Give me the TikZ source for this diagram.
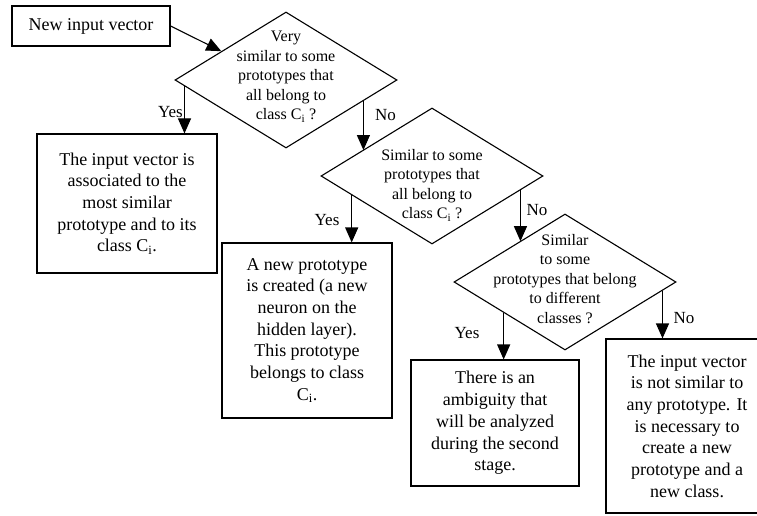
\documentclass[tikz,border=0pt]{standalone}
\usepackage{fontspec}
\setmainfont{Liberation Serif}
\usetikzlibrary{shapes.geometric,arrows.meta,calc}
\begin{document}
\begin{tikzpicture}[x=1pt,y=-1pt,
  box/.style={draw, line width=1.1pt, rectangle, inner sep=0pt, align=center, font=\fontsize{18}{21.7}\selectfont},
  dia/.style={draw, line width=1.1pt, diamond, inner sep=0pt},
  dtext/.style={align=center, inner sep=0pt, font=\fontsize{16}{19.5}\selectfont},
  lab/.style={inner sep=0pt, font=\fontsize{17}{20}\selectfont},
  arr/.style={line width=1.1pt, -{Triangle[width=13pt,length=15pt]}}
]
\useasboundingbox (0,0) rectangle (757,516);
\clip (0,0) rectangle (757,516);

% start box
\node[box, minimum width=158pt, minimum height=40pt] (start) at (91,26) {New input vector};

% decisions
\node[dia, minimum width=222pt, minimum height=136pt] (d1) at (286,80) {};
\node[dia, minimum width=222pt, minimum height=136pt] (d2) at (432,176) {};
\node[dia, minimum width=222pt, minimum height=136pt] (d3) at (565,282) {};

\node[dtext] (d1t) at (286,77) {Very\\similar to some\\prototypes that\\all belong to\\class C\textsubscript{i} ?};
\node[dtext] (d2t) at (432,185) {Similar to some\\prototypes that\\all belong to\\class C\textsubscript{i} ?};
\node[dtext] (d3t) at (565,279) {Similar\\to some\\prototypes that belong\\to different\\classes ?};

% outcome boxes
\node[box, minimum width=180pt, minimum height=139pt] (b1) at (127,203.5)
  {The input vector is\\associated to the\\most similar\\prototype and to its\\class C\textsubscript{i}.};
\node[box, minimum width=170pt, minimum height=175pt] (b2) at (307,330.5)
  {A new prototype\\is created (a new\\neuron on the\\hidden layer).\\This prototype\\belongs to class\\C\textsubscript{i}.};
\node[box, minimum width=168pt, minimum height=126pt] (b3) at (495,423)
  {There is an\\ambiguity that\\will be analyzed\\during the second\\stage.};
\node[box, minimum width=162pt, minimum height=174pt] (b4) at (687,426)
  {The input vector\\is not similar to\\any prototype. It\\is necessary to\\create a new\\prototype and a\\new class.};

% connection points on diamond edges
\path (d1.west) -- (d1.north) coordinate[pos=0.42] (p0);
\path (d1.west) -- (d1.south) coordinate[pos=0.09] (p1);
\path (d1.east) -- (d1.south) coordinate[pos=0.306] (p2);
\path (d2.west) -- (d2.north) coordinate[pos=0.378] (q2);
\path (d2.west) -- (d2.south) coordinate[pos=0.28] (p3);
\path (d2.east) -- (d2.south) coordinate[pos=0.207] (p4);
\path (d3.west) -- (d3.north) coordinate[pos=0.595] (q4);
\path (d3.west) -- (d3.south) coordinate[pos=0.45] (p5);
\path (d3.east) -- (d3.south) coordinate[pos=0.126] (p6);

% connectors
\draw[arr] (start.east) -- (p0);
\draw[arr] (p1) -- (p1 |- b1.north);
\draw[arr] (p2) -- (p2 |- q2);
\draw[arr] (p3) -- (p3 |- b2.north);
\draw[arr] (p4) -- (p4 |- q4);
\draw[arr] (p5) -- (p5 |- b3.north);
\draw[arr] (p6) -- (p6 |- b4.north);

% labels
\node[lab, anchor=east] (l1) at (183,112) {Yes};
\node[lab, anchor=west] (l2) at (375,115) {No};
\node[lab] (l3) at (327,220) {Yes};
\node[lab] (l4) at (537,210) {No};
\node[lab] (l5) at (467,333) {Yes};
\node[lab] (l6) at (684,318) {No};
\end{tikzpicture}
\end{document}
